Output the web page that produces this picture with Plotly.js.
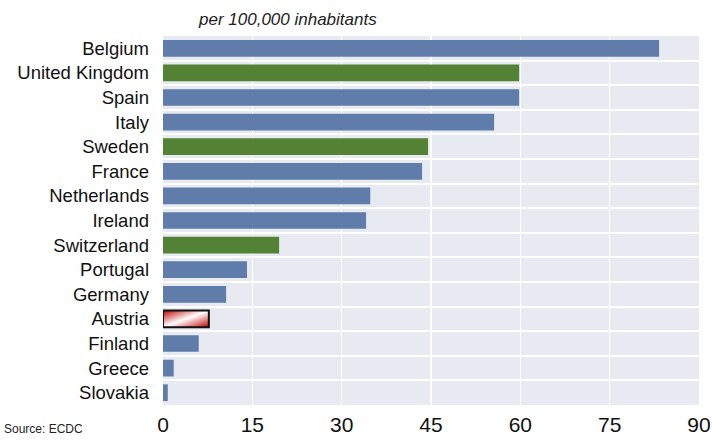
<!DOCTYPE html>
<html>
<head>
<meta charset="utf-8">
<script src="https://cdn.plot.ly/plotly-3.0.1.min.js"></script>
<style>html,body{margin:0;padding:0;background:#fff;}#chart{width:712px;height:440px;}</style>
</head>
<body>
<div id="chart"></div>
<script>
const countries = ["Belgium","United Kingdom","Spain","Italy","Sweden","France","Netherlands","Ireland","Switzerland","Portugal","Germany","Austria","Finland","Greece","Slovakia"];
const deathsPer100k = [83.3,59.8,59.8,55.6,44.5,43.5,34.8,34.1,19.5,14.1,10.6,7.7,6.0,1.8,0.8];
const groups = ["eu","noneu","eu","eu","noneu","eu","eu","eu","noneu","eu","eu","austria","eu","eu","eu"];
const xTicks = [0,15,30,45,60,75,90];

const colorMap = {eu:"#5f7cab", noneu:"#548235", austria:"#e7a3a3"};
const barColors = groups.map(g => colorMap[g]);
const lineWidths = groups.map(g => g === "austria" ? 2 : 0);

const trace = {
  type: "bar",
  orientation: "h",
  y: countries,
  x: deathsPer100k,
  marker: {color: barColors, line: {color: "#111", width: lineWidths}},
  hoverinfo: "x+y"
};

const layout = {
  width: 712, height: 440,
  margin: {l: 163, r: 13, t: 36, b: 35},
  paper_bgcolor: "#ffffff",
  plot_bgcolor: "#e7eaf1",
  showlegend: false,
  bargap: 0.32,
  font: {family: "Liberation Sans, Arial, sans-serif", color: "#111"},
  xaxis: {
    range: [0, 90], tickvals: xTicks, ticktext: xTicks.map(String),
    showgrid: true, gridcolor: "#ffffff", gridwidth: 1.5,
    zeroline: false, showline: false, ticks: "",
    ticklabelstandoff: 5,
    tickfont: {size: 21, color: "#111"}, fixedrange: true
  },
  yaxis: {
    type: "category", autorange: "reversed",
    tickson: "boundaries", showgrid: true, gridcolor: "#ffffff", gridwidth: 2,
    zeroline: false, showline: false, ticks: "",
    ticklabelstandoff: 13,
    tickfont: {size: 18.5, color: "#111"}, fixedrange: true
  },
  annotations: [
    {text: "<i>per 100,000 inhabitants</i>", xref: "paper", yref: "paper", x: 0.233, y: 1.045,
     xanchor: "center", yanchor: "middle", showarrow: false, font: {size: 17, color: "#222"}},
    {text: "Source: ECDC", xref: "paper", yref: "paper", x: -0.3, y: -0.04,
     xanchor: "left", yanchor: "top", showarrow: false, font: {size: 12, color: "#222"}}
  ]
};

function applyGradient(gd) {
  const svg = gd.querySelector(".main-svg");
  if (!svg) return;
  let defs = svg.querySelector("defs");
  if (!svg.querySelector("#austriaGrad")) {
    const ns = "http://www.w3.org/2000/svg";
    const g = document.createElementNS(ns, "linearGradient");
    g.setAttribute("id", "austriaGrad");
    g.setAttribute("x1", "0"); g.setAttribute("y1", "0");
    g.setAttribute("x2", "1"); g.setAttribute("y2", "1");
    [["0", "#c00000"], ["0.5", "#ffffff"], ["1", "#c00000"]].forEach(([o, c]) => {
      const s = document.createElementNS(ns, "stop");
      s.setAttribute("offset", o); s.setAttribute("stop-color", c);
      g.appendChild(s);
    });
    defs.appendChild(g);
  }
  const idx = groups.indexOf("austria");
  const paths = gd.querySelectorAll(".barlayer .trace .point path");
  if (paths[idx]) paths[idx].style.fill = "url(#austriaGrad)";
}

Plotly.newPlot("chart", [trace], layout, {displayModeBar: false, staticPlot: true}).then(gd => {
  applyGradient(gd);
  gd.on && gd.on("plotly_afterplot", () => applyGradient(gd));
});
</script>
</body>
</html>
